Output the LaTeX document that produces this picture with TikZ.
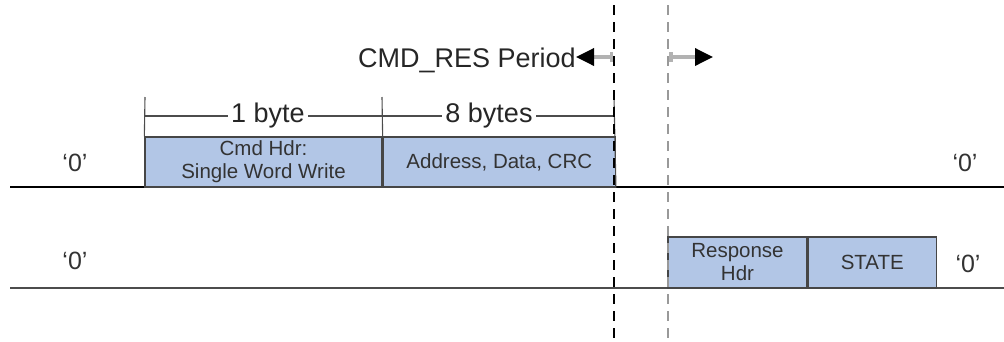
\documentclass[tikz,border=0pt]{standalone}
\usepackage{fontspec}
\setmainfont{Liberation Sans}
\usepackage{xcolor}
\usetikzlibrary{arrows.meta,positioning}
\definecolor{pktblue}{RGB}{178,198,230}
\definecolor{pktedge}{RGB}{70,70,70}

\begin{document}
\begin{tikzpicture}[
  x=1pt, y=-1pt,
  pkt/.style={draw=pktedge, line width=1.3pt, fill=pktblue, inner sep=0pt,
    align=center, font=\fontsize{20.5}{23}\selectfont, text=black!80},
  lvl/.style={font=\fontsize{25}{28}\selectfont, text=black!80},
  bigtxt/.style={font=\fontsize{27}{30}\selectfont, text=black!85},
  wire/.style={line width=1.3pt},
  sep/.style={line width=1.2pt, dash pattern=on 10pt off 7pt},
  tick/.style={line width=1.1pt, black!70},
  periodarr/.style={{Bar[width=10pt]}-{Triangle[length=18pt,width=17pt,black]},
    line width=3.5pt, gray!60}
]
\useasboundingbox (0,0) rectangle (1004,341);

% signal lines
\coordinate (cmdw) at (10,187);
\coordinate (cmde) at (1004,187);
\coordinate (resw) at (10,288);
\coordinate (rese) at (1004,288);
\draw[wire, black] (cmdw) -- (cmde);
\draw[wire, gray!60!black] (resw) -- (rese);

% command packet
\node[pkt, minimum width=237pt, minimum height=50pt] (cmdhdr) at (263.5,162)
  {Cmd Hdr:\\Single Word Write};
\node[pkt, minimum width=232pt, minimum height=50pt, right=0pt of cmdhdr] (cmddata)
  {Address, Data, CRC};

% response packet
\node[pkt, minimum width=139pt, minimum height=51pt] (reshdr) at (737.5,262.5)
  {Response\\Hdr};
\node[pkt, minimum width=128pt, minimum height=51pt, right=0pt of reshdr] (state)
  {STATE};

% idle levels
\node[lvl] (cmdidlel) at (75,163) {`0'};
\node[lvl] (cmdidler) at (965,163) {`0'};
\node[lvl] (residlel) at (75,261) {`0'};
\node[lvl] (residler) at (968,264) {`0'};

% byte counts
\coordinate (b0) at (145,97);
\coordinate (b1) at (382,97);
\coordinate (b2) at (614,97);
\draw[tick] (b0) -- (cmdhdr.north west);
\draw[tick] (b1) -- (cmdhdr.north east);
\draw[tick] (b2) -- (cmddata.south east);
\draw[tick] (145,116) -- (614,116);
\node[bigtxt, fill=white, inner sep=3pt] (onebyte) at (268,116) {1 byte};
\node[bigtxt, fill=white, inner sep=3pt] (eightbytes) at (489,116) {8 bytes};

% turnaround period
\coordinate (cmdendt) at (614,5);
\coordinate (cmdendb) at (614,341);
\coordinate (resbegt) at (668,5);
\coordinate (resbegb) at (668,341);
\draw[sep, black] (cmdendt) -- (cmdendb);
\draw[sep, gray!80] (resbegt) -- (resbegb);
\node[bigtxt, anchor=east, inner sep=0pt] (period) at (576,60) {CMD\_RES Period};
\coordinate (periodl) at (613,57);
\coordinate (periodr) at (669,57);
\coordinate (periodtip) at (713,57);
\draw[periodarr] (periodl) -- (period.east |- periodl);
\draw[periodarr] (periodr) -- (periodtip);
\end{tikzpicture}
\end{document}
